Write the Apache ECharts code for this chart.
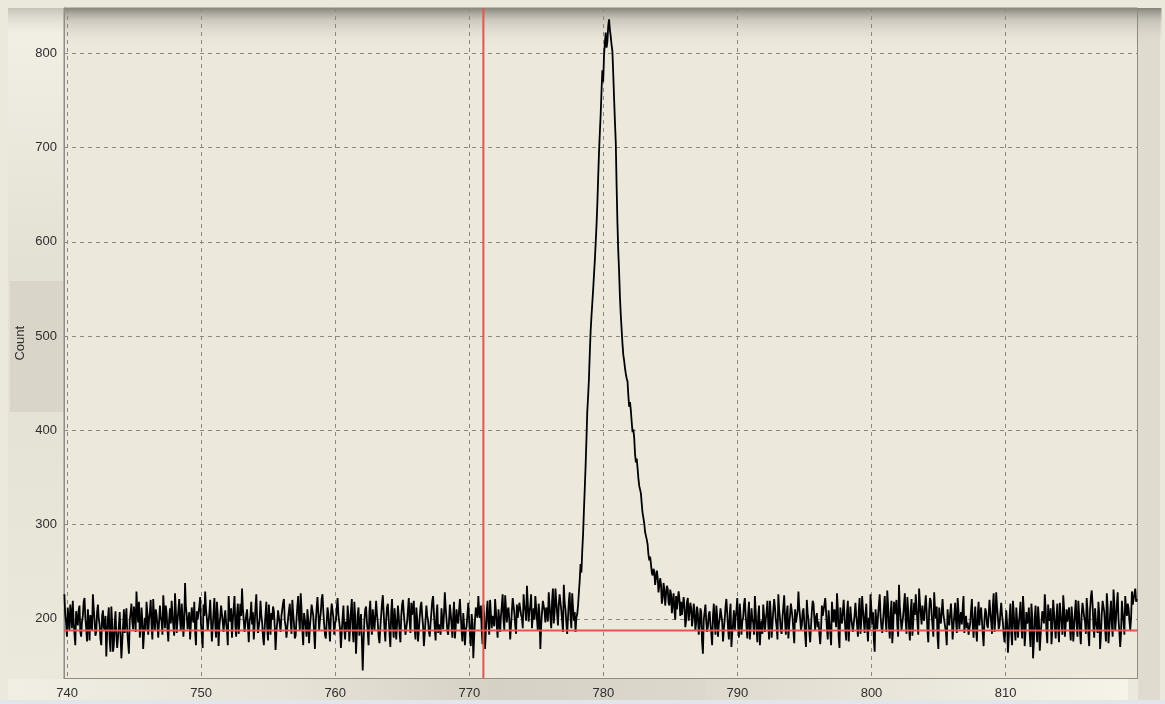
<!DOCTYPE html>
<html>
<head>
<meta charset="utf-8">
<script src="https://cdn.jsdelivr.net/npm/echarts@6/dist/echarts.min.js"></script>
<style>
  html, body { margin: 0; padding: 0; background: #ebe8dc; }
  #chart { width: 1165px; height: 704px; }
</style>
</head>
<body>
<div id="chart"></div>
<script>
// Spectrum: wavelength (x) against detector count (y), sampled every 0.0625 units.
const xStart = 739.8;
const xStep = 0.0625;

// Count values, one row per wavelength unit (16 samples each), starting at 739.8.
const counts = [
  226, 204, 196, 181, 212, 199, 188, 215, 205, 190, 219, 197, 184, 172, 208, 200,
  193, 209, 214, 186, 181, 197, 203, 218, 222, 201, 190, 176, 210, 196, 177, 204,
  205, 188, 226, 211, 198, 182, 186, 207, 215, 200, 194, 179, 172, 203, 209, 191,
  188, 203, 160, 184, 201, 212, 178, 165, 213, 196, 165, 172, 195, 208, 182, 169,
  170, 192, 207, 183, 158, 175, 192, 210, 185, 198, 211, 187, 175, 163, 199, 206,
  216, 197, 189, 213, 205, 186, 229, 210, 196, 218, 180, 191, 212, 199, 168, 184,
  201, 187, 218, 206, 183, 199, 207, 220, 192, 178, 221, 203, 187, 210, 204, 193,
  180, 197, 214, 202, 197, 183, 225, 208, 190, 214, 206, 188, 176, 199, 211, 195,
  219, 204, 193, 182, 227, 209, 185, 198, 209, 221, 199, 187, 216, 203, 181, 196,
  238, 212, 204, 189, 191, 207, 178, 195, 212, 201, 196, 218, 186, 172, 208, 199,
  197, 213, 223, 194, 183, 169, 215, 203, 229, 210, 201, 187, 189, 206, 220, 198,
  176, 191, 207, 222, 194, 180, 218, 205, 171, 193, 202, 214, 213, 196, 186, 201,
  209, 195, 188, 172, 224, 206, 197, 211, 180, 198, 211, 224, 193, 181, 205, 216,
  184, 199, 216, 203, 232, 211, 199, 186, 187, 204, 210, 192, 175, 197, 203, 218,
  194, 207, 178, 193, 212, 226, 201, 185, 186, 199, 219, 204, 196, 181, 172, 190,
  205, 218, 190, 177, 215, 199, 183, 206, 199, 213, 208, 192, 167, 186, 196, 209,
  211, 194, 186, 203, 203, 217, 221, 198, 192, 180, 178, 201, 209, 216, 197, 184,
  220, 206, 195, 179, 182, 200, 213, 224, 200, 188, 227, 210, 188, 172, 206, 199,
  193, 181, 210, 199, 174, 192, 202, 215, 216, 203, 185, 168, 197, 211, 223, 207,
  188, 199, 207, 221, 226, 208, 194, 183, 179, 196, 212, 205, 190, 176, 204, 216,
  215, 201, 183, 195, 198, 211, 222, 204, 206, 189, 169, 186, 201, 214, 190, 178,
  197, 186, 214, 203, 176, 192, 209, 221, 188, 175, 218, 203, 163, 184, 204, 212,
  182, 196, 205, 178, 145, 176, 198, 210, 213, 197, 186, 172, 208, 219, 194, 183,
  210, 199, 187, 203, 219, 205, 196, 181, 174, 190, 203, 216, 225, 207, 189, 176,
  199, 212, 216, 200, 184, 170, 207, 221, 193, 180, 211, 198, 178, 194, 214, 203,
  186, 175, 203, 215, 220, 206, 195, 183, 181, 197, 209, 222, 198, 185, 217, 204,
  205, 219, 190, 178, 212, 200, 176, 188, 201, 213, 218, 203, 193, 171, 184, 199,
  214, 203, 198, 186, 181, 195, 207, 219, 224, 206, 190, 177, 203, 215, 185, 194,
  196, 183, 211, 199, 189, 205, 228, 212, 200, 187, 183, 197, 215, 206, 194, 180,
  203, 218, 179, 191, 210, 198, 195, 209, 221, 204, 187, 176, 206, 193, 172, 188,
  192, 205, 217, 199, 183, 171, 205, 196, 158, 181, 199, 212, 213, 201, 224, 207,
  201, 214, 188, 173, 215, 202, 168, 187, 207, 219, 196, 183, 220, 205, 190, 203,
  205, 192, 221, 208, 193, 180, 210, 199, 186, 203, 214, 226, 199, 188, 225, 211,
  196, 209, 212, 198, 178, 193, 208, 222, 220, 206, 193, 184, 215, 201, 203, 217,
  218, 204, 201, 190, 226, 213, 209, 198, 235, 217, 197, 208, 214, 226, 190, 203,
  211, 199, 224, 212, 199, 187, 216, 205, 168, 193, 207, 219, 221, 208, 196, 212,
  209, 197, 228, 214, 201, 190, 219, 232, 195, 207, 232, 218, 206, 193, 215, 226,
  224, 209, 198, 186, 236, 217, 210, 196, 184, 201, 219, 228, 203, 190, 227, 212,
  198, 207, 186, 201, 205, 214, 228, 241, 258, 249, 272, 290, 315, 338, 362, 390,
  420, 436, 455, 482, 505, 521, 535, 549, 565, 580, 598, 617, 640, 668, 695, 716,
  735, 760, 782, 770, 798, 811, 822, 806, 812, 829, 836, 825, 818, 809, 802, 778,
  752, 728, 706, 660, 620, 590, 568, 541, 522, 507, 492, 480, 474, 466, 460, 455,
  452, 437, 425, 430, 421, 409, 398, 401, 392, 375, 366, 370, 360, 349, 341, 337,
  333, 322, 312, 307, 301, 292, 288, 284, 279, 268, 262, 266, 258, 249, 246, 253,
  250, 236, 238, 251, 244, 228, 229, 243, 236, 216, 222, 238, 231, 214, 226, 235,
  232, 217, 214, 231, 226, 206, 218, 227, 209, 199, 224, 210, 212, 229, 221, 203,
  218, 204, 204, 223, 213, 191, 199, 218, 222, 198, 207, 217, 211, 192, 200, 216,
  209, 188, 196, 213, 205, 183, 192, 211, 207, 176, 163, 199, 201, 215, 197, 186,
  192, 205, 208, 194, 185, 172, 203, 216, 197, 183, 214, 203, 181, 194, 200, 211,
  210, 197, 176, 189, 199, 213, 221, 206, 190, 178, 205, 216, 170, 185, 196, 209,
  187, 201, 209, 222, 194, 180, 216, 203, 183, 197, 201, 215, 222, 204, 192, 179,
  205, 218, 178, 191, 211, 199, 196, 183, 224, 208, 188, 175, 203, 214, 172, 190,
  198, 184, 215, 203, 186, 199, 207, 219, 193, 178, 219, 205, 180, 194, 209, 221,
  212, 199, 191, 178, 226, 210, 200, 187, 184, 202, 213, 225, 197, 183, 206, 214,
  179, 193, 204, 216, 218, 201, 187, 174, 210, 196, 195, 208, 229, 212, 201, 188,
  193, 207, 211, 197, 183, 170, 220, 206, 199, 186, 175, 192, 208, 219, 216, 200,
  188, 202, 206, 191, 197, 184, 173, 190, 214, 203, 201, 215, 222, 207, 190, 178,
  209, 196, 185, 172, 218, 204, 196, 210, 204, 191, 227, 212, 181, 169, 212, 199,
  195, 208, 220, 203, 188, 177, 207, 219, 176, 194, 213, 201, 199, 186, 186, 204,
  217, 203, 193, 181, 209, 222, 184, 197, 224, 210, 198, 185, 205, 216, 190, 176,
  201, 188, 226, 211, 194, 207, 178, 165, 210, 198, 189, 203, 215, 226, 203, 191,
  185, 198, 211, 224, 199, 186, 230, 214, 192, 179, 206, 219, 174, 190, 218, 205,
  207, 220, 193, 181, 236, 213, 201, 188, 188, 203, 215, 227, 197, 184, 223, 209,
  190, 177, 209, 221, 182, 196, 217, 204, 226, 212, 196, 183, 232, 217, 205, 194,
  214, 201, 198, 213, 225, 208, 187, 175, 209, 222, 219, 204, 193, 181, 228, 210,
  200, 213, 181, 168, 212, 199, 195, 208, 221, 205, 206, 192, 186, 172, 210, 197,
  193, 205, 216, 201, 178, 192, 204, 217, 198, 185, 222, 209, 189, 201, 207, 194,
  211, 224, 185, 197, 203, 190, 196, 183, 181, 195, 209, 221, 194, 180, 200, 213,
  188, 176, 205, 218, 193, 206, 212, 198, 184, 171, 199, 211, 207, 194, 190, 203,
  220, 207, 197, 184, 214, 227, 186, 199, 228, 213, 202, 189, 193, 206, 217, 204,
  196, 183, 175, 190, 209, 196, 164, 181, 203, 216, 185, 172, 219, 206, 190, 177,
  212, 198, 180, 194, 205, 218, 193, 179, 224, 209, 171, 186, 207, 195, 198, 212,
  184, 170, 216, 203, 158, 176, 201, 214, 189, 175, 213, 200, 166, 182, 195, 208,
  209, 195, 226, 212, 187, 174, 215, 201, 198, 211, 173, 189, 220, 207, 192, 179,
  203, 216, 188, 175, 217, 204, 196, 183, 225, 211, 181, 194, 210, 197, 199, 212,
  190, 177, 213, 200, 176, 191, 207, 220, 194, 181, 219, 205, 186, 173, 204, 217,
  215, 202, 197, 184, 222, 209, 184, 171, 209, 223, 230, 216, 193, 180, 211, 198,
  198, 185, 218, 205, 168, 183, 205, 219, 221, 207, 189, 176, 227, 213, 174, 188,
  206, 219, 194, 181, 231, 217, 187, 200, 215, 228, 199, 186, 170, 184, 219, 206,
  196, 183, 224, 210, 203, 216, 211, 198, 188, 201, 229, 215, 214, 227, 232, 218,
  221
];

// Axis ranges and labelled ticks
const xRange = [739.77, 819.84];
const yRange = [136.6, 848.1];
const xTickLabels = [740, 750, 760, 770, 780, 790, 800, 810];
const yTickLabels = [200, 300, 400, 500, 600, 700, 800];

// Reference markers: background level and cursor position
const baselineLevel = 187.5;
const cursorPosition = 771.05;

const spectrum = counts.map((c, i) => [+(xStart + i * xStep).toFixed(4), c]);

// Plot box in pixels
const box = { left: 64, top: 8, right: 1137.5, bottom: 678.5 };

const chart = echarts.init(document.getElementById('chart'), null, { renderer: 'canvas' });

const grad = (x, y, x2, y2, stops) =>
  new echarts.graphic.LinearGradient(x, y, x2, y2, stops.map(([o, c]) => ({ offset: o, color: c })));

const panels = [
  // left label panel
  { type: 'rect', z: -10, shape: { x: 8, y: 8, width: 56, height: 671 },
    style: { fill: grad(0, 0, 0, 1, [[0, '#f3f0e5'], [0.38, '#e3e0d4'], [0.62, '#e5e2d6'], [1, '#ebe8dc']]) } },
  { type: 'rect', z: -9, shape: { x: 10, y: 281, width: 54, height: 131 },
    style: { fill: '#d9d5c9' } },
  { type: 'rect', z: -9, shape: { x: 8, y: 8, width: 56, height: 30 },
    style: { fill: grad(0, 0, 0, 1, [[0, 'rgba(160,157,148,0.55)'], [1, 'rgba(240,236,226,0)']]) } },
  // plotting surface
  { type: 'rect', z: -10, shape: { x: box.left, y: box.top, width: box.right - box.left, height: box.bottom - box.top },
    style: { fill: '#ece8dc' } },
  { type: 'rect', z: -9, shape: { x: box.left, y: box.top, width: box.right - box.left + 24, height: 40 },
    style: { fill: grad(0, 0, 0, 1, [[0, 'rgba(125,122,114,0.9)'], [0.3, 'rgba(170,167,158,0.5)'], [1, 'rgba(236,232,220,0)']]) } },
  // right strip
  { type: 'rect', z: -10, shape: { x: 1138, y: 8, width: 22, height: 692 },
    style: { fill: '#dfdbcf' } },
  // bottom label band
  { type: 'rect', z: -10, shape: { x: 8, y: 679, width: 482, height: 21 },
    style: { fill: grad(0, 0, 1, 0, [[0, '#f1eee3'], [0.6, '#e6e2d6'], [1, '#d6d2c6']]) } },
  { type: 'rect', z: -10, shape: { x: 490, y: 679, width: 215, height: 21 },
    style: { fill: grad(0, 0, 1, 0, [[0, '#d5d1c5'], [1, '#dcd8cc']]) } },
  { type: 'rect', z: -10, shape: { x: 705, y: 679, width: 423, height: 21 },
    style: { fill: grad(0, 0, 1, 0, [[0, '#dedacd'], [1, '#f6f3e9']]) } },
  { type: 'rect', z: -10, shape: { x: 0, y: 700, width: 1165, height: 4 },
    style: { fill: '#e2e5ea' } }
];

const labelFont = { fontFamily: '"Liberation Sans", Arial, sans-serif', fontSize: 13, color: '#2e2e2e' };

chart.setOption({
  animation: false,
  backgroundColor: '#ebe8dc',
  graphic: { elements: panels },
  grid: {
    show: true,
    left: box.left,
    right: 1165 - box.right,
    top: box.top,
    bottom: 704 - box.bottom,
    backgroundColor: 'transparent',
    borderColor: '#8e8c84',
    borderWidth: 1
  },
  xAxis: {
    type: 'value',
    min: xRange[0],
    max: xRange[1],
    splitNumber: 8,
    axisLine: { show: true, lineStyle: { color: '#8e8c84', width: 1 } },
    axisTick: { show: false },
    axisLabel: Object.assign({
      margin: 8,
      showMinLabel: true,
      showMaxLabel: true,
      formatter: v => (xTickLabels.includes(Math.round(v * 1000) / 1000) ? String(Math.round(v)) : '')
    }, labelFont),
    splitLine: { show: true, lineStyle: { color: '#8a8880', type: [4, 4], width: 1 } }
  },
  yAxis: {
    type: 'value',
    min: yRange[0],
    max: yRange[1],
    splitNumber: 7,
    name: 'Count',
    nameLocation: 'middle',
    nameRotate: 90,
    nameGap: 37,
    nameMoveOverlap: false,
    nameTextStyle: labelFont,
    axisLine: { show: true, lineStyle: { color: '#8e8c84', width: 1 } },
    axisTick: { show: false },
    axisLabel: Object.assign({
      margin: 7,
      formatter: v => (yTickLabels.includes(Math.round(v * 1000) / 1000) ? String(Math.round(v)) : '')
    }, labelFont),
    splitLine: { show: true, lineStyle: { color: '#8a8880', type: [4, 4], width: 1 } }
  },
  series: [
    {
      name: 'Count',
      type: 'line',
      data: spectrum,
      showSymbol: false,
      symbol: 'none',
      sampling: 'none',
      large: false,
      progressive: 0,
      clip: true,
      z: 3,
      lineStyle: { color: '#000000', width: 1.8, join: 'miter', miterLimit: 4 }
    },
    {
      name: 'Background',
      type: 'line',
      data: [[xRange[0], baselineLevel], [xRange[1], baselineLevel]],
      showSymbol: false,
      symbol: 'none',
      silent: true,
      z: 4,
      lineStyle: { color: '#e2574d', width: 2 }
    },
    {
      name: 'Cursor',
      type: 'line',
      data: [[cursorPosition, yRange[0]], [cursorPosition, yRange[1]]],
      showSymbol: false,
      symbol: 'none',
      silent: true,
      z: 4,
      lineStyle: { color: '#e2574d', width: 2 }
    }
  ]
});
</script>
</body>
</html>
